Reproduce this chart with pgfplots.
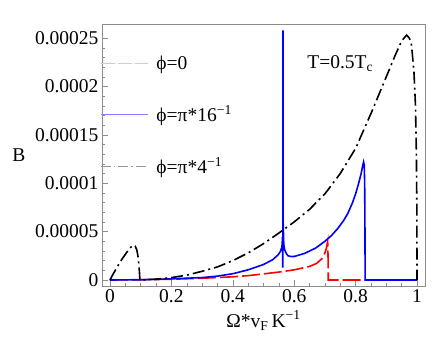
\documentclass[border=0pt]{standalone}
\usepackage{fontspec}
\setmainfont{Liberation Serif}
\usepackage{pgfplots}
\pgfplotsset{compat=1.18}
\definecolor{legred}{RGB}{255,185,185}
\definecolor{legblue}{RGB}{130,130,255}
\definecolor{leggray}{RGB}{150,150,150}
\definecolor{framegray}{RGB}{140,140,140}
\begin{document}
\begin{tikzpicture}[font=\fontsize{19.5}{23}\selectfont]
\useasboundingbox (-102pt,-67pt) rectangle (334pt,286pt);
\begin{axis}[
  scale only axis, width=323pt, height=262pt,
  xmin=-0.026, xmax=1.026, ymin=-0.0000062, ymax=0.0002645,
  axis line style={framegray},
  tick align=inside, xtick pos=left, ytick pos=left,
  major tick length=6pt, minor tick length=3pt,
  every tick/.style={framegray},
  xtick={0,0.2,0.4,0.6,0.8,1},
  xticklabels={0,0.2,0.4,0.6,0.8,1},
  ytick={0,0.00005,0.0001,0.00015,0.0002,0.00025},
  yticklabels={0,0.00005,0.0001,0.00015,0.0002,0.00025},
  minor x tick num=3, minor y tick num=4,
  scaled y ticks=false,
  /pgf/number format/assume math mode=true,
  xlabel={Ω*v\textsubscript{F}\,K\textsuperscript{−1}},
  xlabel style={yshift=-1pt},
  ylabel={B},
  ylabel style={at={(axis description cs:-0.257,0.5)}, rotate=-90, anchor=center},
  legend style={draw=none, fill=none, at={(axis description cs:-0.006,0.885)}, anchor=north west, row sep=30pt, inner sep=0pt,
    /tikz/every odd column/.append style={column sep=6pt}},
  legend cell align=left,
  legend image code/.code={\draw[#1] (0pt,0pt) -- (47pt,0pt);},
]
\addlegendimage{legred, line width=1.2pt, dash pattern=on 14pt off 3pt}
\addlegendentry{ϕ=0}
\addlegendimage{legblue, line width=1.2pt}
\addlegendentry{ϕ=π*16\textsuperscript{−1}}
\addlegendimage{leggray, line width=1.2pt, dash pattern=on 10pt off 3pt on 1.5pt off 3pt}
\addlegendentry{ϕ=π*4\textsuperscript{−1}}

\addplot[forget plot, red, line width=1.6pt, dash pattern=on 18pt off 4pt] coordinates {
(0,0) (0.1,0.02e-5) (0.2,0.08e-5) (0.3,0.18e-5) (0.4,0.33e-5) (0.45,0.45e-5) (0.5,0.63e-5) (0.55,0.82e-5) (0.6,1.05e-5) (0.65,1.4e-5) (0.673,1.72e-5) (0.69,2.2e-5) (0.7,2.8e-5) (0.705,3.3e-5) (0.709,3.96e-5) (0.7105,2e-5) (0.711,0) (0.831,0)
};
\addplot[forget plot, blue, line width=1.6pt] coordinates {
(0,0) (0.1,0.03e-5) (0.2,0.12e-5) (0.3,0.25e-5) (0.35,0.4e-5) (0.4,0.65e-5) (0.45,1.05e-5) (0.5,1.6e-5) (0.53,2.1e-5) (0.547,2.58e-5) (0.555,2.95e-5) (0.56,3.4e-5) (0.5622,4.5e-5) (0.5628,1.27e-5) (0.5634,2.58e-4) (0.564,6e-5) (0.566,3.7e-5) (0.569,3.1e-5) (0.575,2.7e-5) (0.58,2.5e-5) (0.59,2.42e-5) (0.6,2.43e-5) (0.634,2.75e-5) (0.67,3.3e-5) (0.7,4.0e-5) (0.72,4.55e-5) (0.74,5.25e-5) (0.76,6.1e-5) (0.775,6.9e-5) (0.79,8.0e-5) (0.8,8.9e-5) (0.81,10.0e-5) (0.818,11.0e-5) (0.823,11.8e-5) (0.826,12.2e-5) (0.828,11.9e-5) (0.8295,10e-5) (0.8305,5e-5) (0.831,0) (1.0,0)
};
\addplot[forget plot, black, line width=1.6pt, dash pattern=on 12pt off 4pt on 2pt off 4pt] coordinates {
(0,0) (0.01,0.6e-5) (0.02,1.15e-5) (0.03,1.7e-5) (0.04,2.2e-5) (0.05,2.65e-5) (0.06,3.1e-5) (0.07,3.45e-5) (0.076,3.6e-5) (0.082,3.5e-5) (0.087,3.15e-5) (0.091,2.5e-5) (0.094,1.6e-5) (0.096,0.8e-5) (0.0975,0) (0.1,0) (0.15,0.08e-5) (0.2,0.25e-5) (0.25,0.5e-5) (0.3,0.9e-5) (0.35,1.35e-5) (0.4,2.0e-5) (0.45,2.8e-5) (0.5,3.75e-5) (0.55,4.85e-5) (0.6,6.0e-5) (0.65,7.3e-5) (0.7,8.9e-5) (0.75,1.1e-4) (0.8,1.36e-4) (0.85,1.72e-4) (0.9,2.1e-4) (0.93,2.33e-4) (0.95,2.47e-4) (0.966,2.53e-4) (0.975,2.5e-4) (0.982,2.43e-4) (0.99,2.15e-4) (0.995,1.8e-4) (0.998,1.3e-4) (0.9995,0.7e-4) (1.0,0)
};
\node at (axis cs:0.75,2.24e-4) {T=0.5T\textsubscript{c}};
\end{axis}
\end{tikzpicture}
\end{document}
